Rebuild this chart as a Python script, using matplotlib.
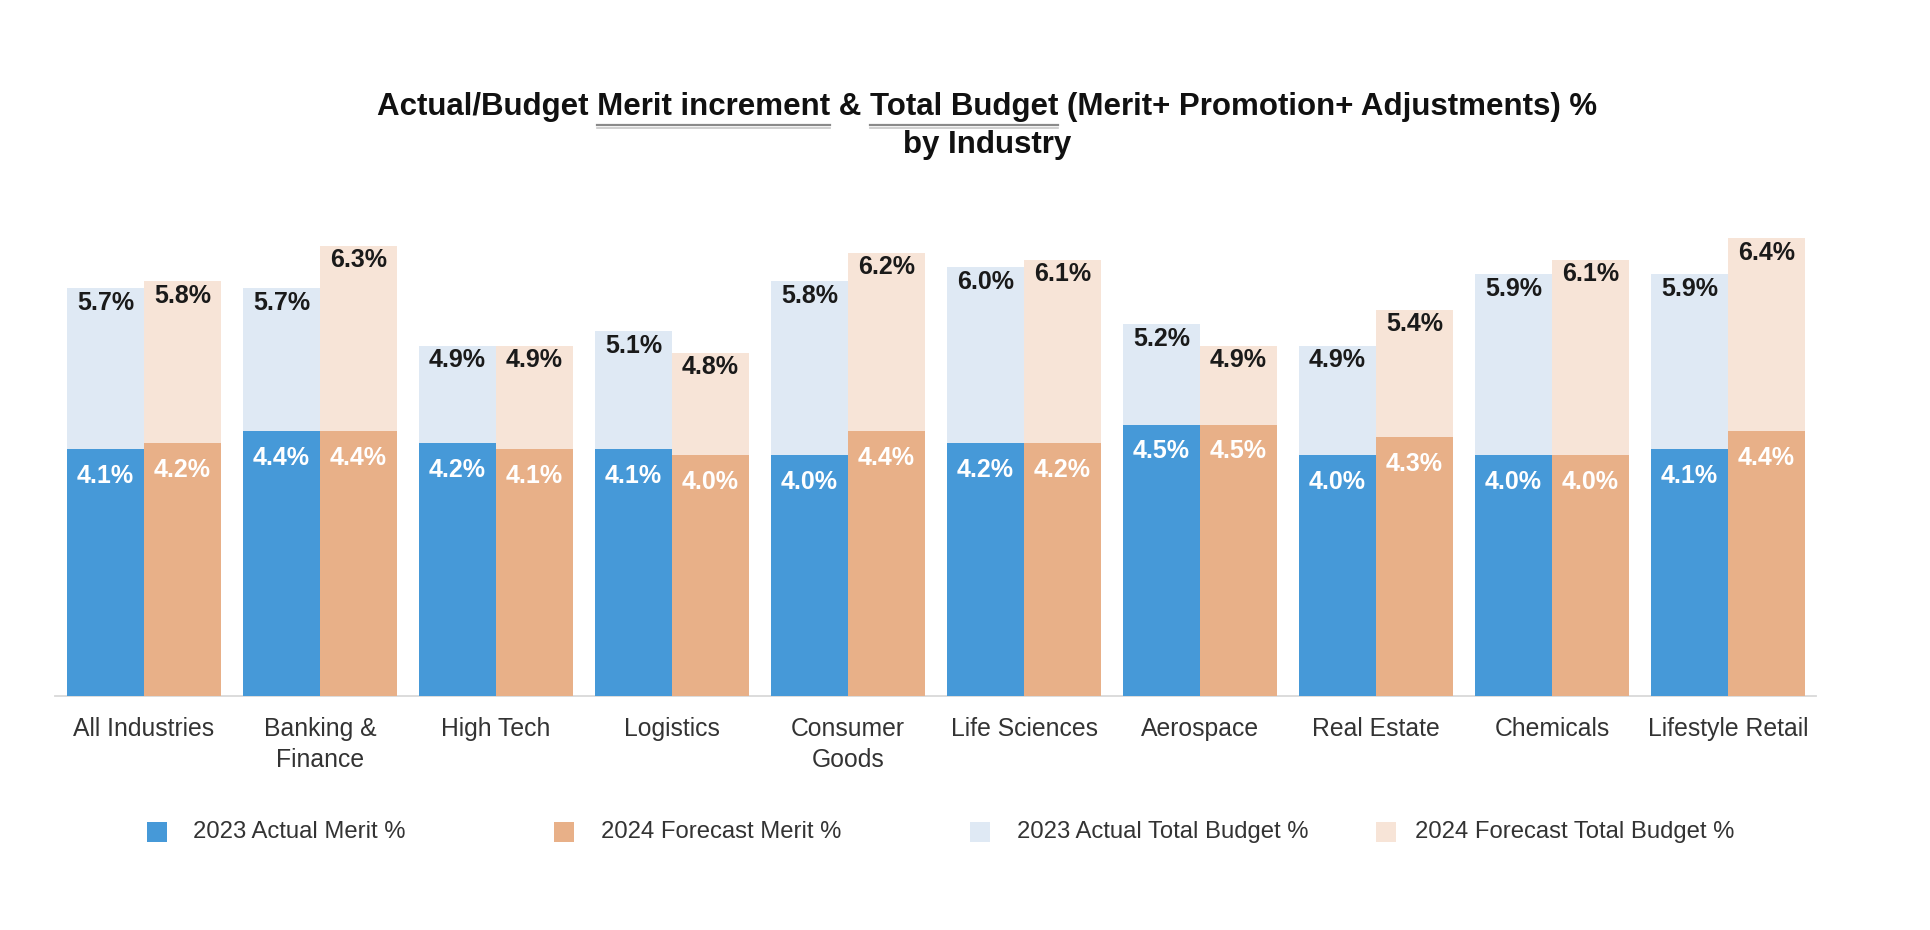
import matplotlib
matplotlib.use("Agg")
import matplotlib.pyplot as plt
from matplotlib.patches import Rectangle
from matplotlib.lines import Line2D
from matplotlib.transforms import blended_transform_factory
import numpy as np

# ---------------- data ----------------
categories = ["All Industries", "Banking &\nFinance", "High Tech", "Logistics",
              "Consumer\nGoods", "Life Sciences", "Aerospace", "Real Estate",
              "Chemicals", "Lifestyle Retail"]
merit_2023 = [4.1, 4.4, 4.2, 4.1, 4.0, 4.2, 4.5, 4.0, 4.0, 4.1]
merit_2024 = [4.2, 4.4, 4.1, 4.0, 4.4, 4.2, 4.5, 4.3, 4.0, 4.4]
total_2023 = [5.7, 5.7, 4.9, 5.1, 5.8, 6.0, 5.2, 4.9, 5.9, 5.9]
total_2024 = [5.8, 6.3, 4.9, 4.8, 6.2, 6.1, 4.9, 5.4, 6.1, 6.4]
series_labels = ["2023 Actual Merit %", "2024 Forecast Merit %",
                 "2023 Actual Total Budget %", "2024 Forecast Total Budget %"]
title_parts = ["Actual/Budget ", "Merit increment", " & ", "Total Budget",
               " (Merit+ Promotion+ Adjustments) %"]
title_line2 = "by Industry"

# ---------------- style ----------------
plt.rcParams["font.family"] = ["Liberation Sans", "DejaVu Sans"]
C_BLUE = "#4699D8"
C_ORANGE = "#E8B088"
C_LBLUE = "#DFE9F4"
C_PEACH = "#F7E4D7"
series_colors = [C_BLUE, C_ORANGE, C_LBLUE, C_PEACH]

W, H = 1930, 930
fig = plt.figure(figsize=(W / 100, H / 100), dpi=100)
fig.patch.set_facecolor("white")


def fx(px):
    return px / W


def fy(py):
    return 1 - py / H


ax_left, ax_right = 55, 1816
ax_base, ax_top = 696, 200
ax1 = fig.add_axes([fx(ax_left), fy(ax_base), (ax_right - ax_left) / W,
                    (ax_base - ax_top) / H])
ax2 = ax1.twinx()

h_px = ax_base - ax_top
ax1.set_ylim(0, h_px / 71.5)   # total-budget scale
ax2.set_ylim(0, h_px / 60.2)   # merit scale
ax1.set_xlim(-0.506, 9.5)
ax2.set_xlim(-0.506, 9.5)

x = np.arange(len(categories))
bw = 0.4375
ax1.bar(x - bw / 2, total_2023, bw, color=C_LBLUE, linewidth=0)
ax1.bar(x + bw / 2, total_2024, bw, color=C_PEACH, linewidth=0)
ax2.bar(x - bw / 2, merit_2023, bw, color=C_BLUE, linewidth=0)
ax2.bar(x + bw / 2, merit_2024, bw, color=C_ORANGE, linewidth=0)

for a in (ax1, ax2):
    for s in a.spines.values():
        s.set_visible(False)
    a.set_xticks([])
    a.set_yticks([])
ax1.spines["bottom"].set_visible(True)
ax1.spines["bottom"].set_color("#D9D9D9")
ax1.spines["bottom"].set_linewidth(1.3)

lab_fs = 18
for xs, vals in ((x - bw / 2, total_2023), (x + bw / 2, total_2024)):
    for xi, v in zip(xs, vals):
        ax1.annotate(f"{v:.1f}%", (xi, v), xytext=(0, -10.5), textcoords="offset points",
                     ha="center", va="center", fontsize=lab_fs, fontweight="bold",
                     color="#1A1A1A")
for xs, vals in ((x - bw / 2, merit_2023), (x + bw / 2, merit_2024)):
    for xi, v in zip(xs, vals):
        ax2.annotate(f"{v:.1f}%", (xi, v), xytext=(0, -19), textcoords="offset points",
                     ha="center", va="center", fontsize=lab_fs, fontweight="bold",
                     color="white")

# category labels
btr = blended_transform_factory(ax1.transData, fig.transFigure)
for xi, cat in zip(x, categories):
    for k, line in enumerate(cat.split("\n")):
        ax1.text(xi, fy(729 + 31 * k), line, transform=btr, ha="center", va="center",
                 fontsize=17.8, color="#333333", clip_on=False)

# legend
sq_cx = [157, 564, 980, 1386]
txt_x = [193, 601, 1017, 1415]
leg_y = 832
for cx, tx, col, lab in zip(sq_cx, txt_x, series_colors, series_labels):
    fig.add_artist(Rectangle((fx(cx - 10), fy(leg_y + 10)), 20 / W, 20 / H,
                             transform=fig.transFigure, facecolor=col, edgecolor="none"))
    fig.text(fx(tx), fy(leg_y), lab, ha="left", va="center", fontsize=17.2,
             color="#333333")

# title with underlined segments
renderer = fig.canvas.get_renderer()
title_fs = 22.5
title_cx = 987
title_y1, title_y2 = 107, 145


def text_w(s):
    t = fig.text(0, 0, s, fontsize=title_fs, fontweight="bold")
    w = t.get_window_extent(renderer).width
    t.remove()
    return w


full = "".join(title_parts)
w_full = text_w(full)
left = title_cx - w_full / 2
fig.text(fx(title_cx), fy(title_y1), full, ha="center", va="center",
         fontsize=title_fs, fontweight="bold", color="#111111")
fig.text(fx(title_cx), fy(title_y2), title_line2, ha="center", va="center",
         fontsize=title_fs, fontweight="bold", color="#111111")

for idx in (1, 3):
    prefix_end = "".join(title_parts[:idx + 1])
    end = left + text_w(prefix_end)
    start = end - text_w(title_parts[idx])
    for dy, col, lw in ((18, "#8A8A8A", 1.6), (21, "#C8C8C8", 1.2)):
        fig.add_artist(Line2D([fx(start), fx(end)], [fy(title_y1 + dy)] * 2,
                              transform=fig.transFigure, color=col, linewidth=lw))

fig.savefig("out.png", dpi=100, facecolor="white")
